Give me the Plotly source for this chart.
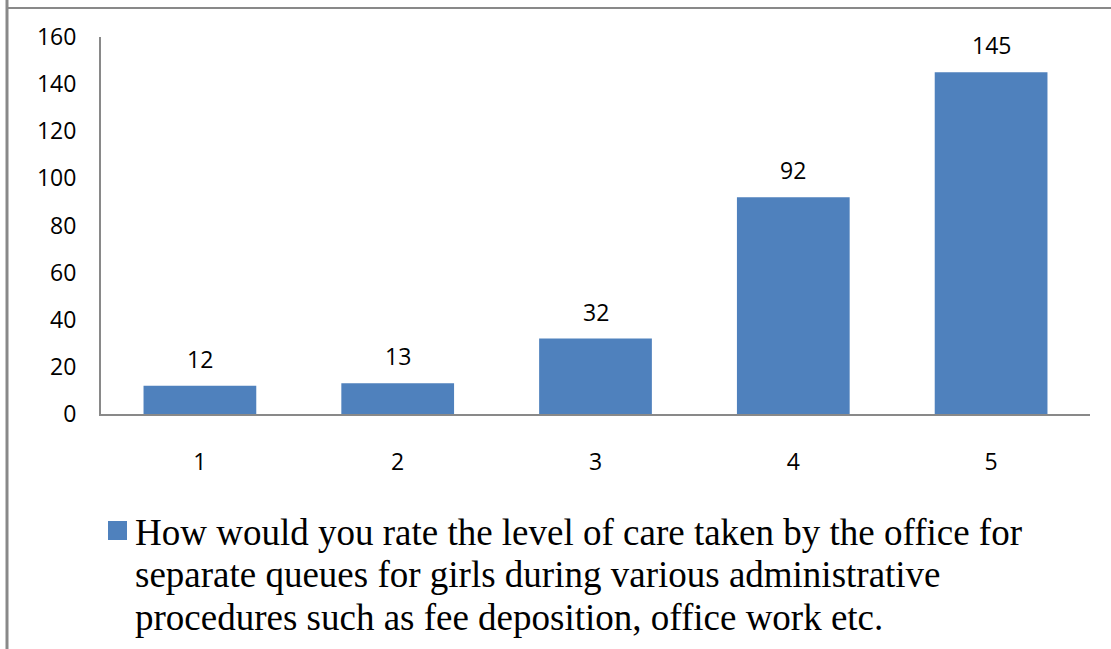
import plotly.graph_objects as go

# rating categories and counts
categories = [1, 2, 3, 4, 5]
counts = [12, 13, 32, 92, 145]
y_ticks = [0, 20, 40, 60, 80, 100, 120, 140, 160]
series_lines = [
    "How would you rate the level of care taken by the office for",
    "separate queues for girls during various administrative",
    "procedures such as fee deposition, office work etc.",
]

W, H = 1111, 649
L, R, T, B = 101, 1090, 37, 414   # plot area in pixels
BAR = "#4F81BD"
GREY = "#898989"


def px_x(p):
    return (p - L) / (R - L)


def px_y(p):
    return (B - p) / (B - T)


fig = go.Figure()
fig.add_trace(go.Bar(x=categories, y=counts, marker=dict(color=BAR, line=dict(width=0)),
                     width=0.57, showlegend=False, hoverinfo="x+y"))

# value labels above the bars
for c, v in zip(categories, counts):
    fig.add_annotation(x=c, y=v, text=str(v), showarrow=False, yanchor="bottom", yshift=9,
                       font=dict(family="Open Sans", size=23, color="#000"))

# frame lines of the chart area (left and top)
fig.add_shape(type="line", xref="paper", yref="paper", x0=px_x(7), x1=px_x(7), y0=px_y(-5), y1=px_y(H + 5),
              line=dict(color=GREY, width=3))
fig.add_shape(type="line", xref="paper", yref="paper", x0=px_x(6), x1=px_x(W + 5), y0=px_y(8), y1=px_y(8),
              line=dict(color=GREY, width=2))

# legend: square marker + serif text
fig.add_shape(type="rect", xref="paper", yref="paper", x0=px_x(108), x1=px_x(127), y0=px_y(521), y1=px_y(540),
              fillcolor=BAR, line=dict(width=0))
for i, line in enumerate(series_lines):
    fig.add_annotation(xref="paper", yref="paper", x=px_x(133), y=px_y(532 + 42.5 * i),
                       xanchor="left", yanchor="middle", text=line, showarrow=False, align="left",
                       font=dict(family="Liberation Serif", size=37, color="#000"))

fig.update_layout(
    width=W, height=H,
    margin=dict(l=L, r=W - R, t=T, b=H - B, pad=0),
    plot_bgcolor="white", paper_bgcolor="white",
    font=dict(family="Open Sans", size=23, color="#000"),
    xaxis=dict(range=[0.5, 5.5], tickvals=categories, showline=True, linecolor=GREY, linewidth=2,
               showgrid=False, zeroline=False, ticks="", ticklabelstandoff=26, tickfont=dict(size=23)),
    yaxis=dict(range=[0, 160], tickvals=y_ticks, showline=True, linecolor=GREY, linewidth=2, showgrid=False,
               zeroline=False, ticks="", ticklabelstandoff=18, tickfont=dict(size=23)),
)

fig.write_html("out.html", config={"displayModeBar": False},
               post_script="document.body.style.margin='0';")
